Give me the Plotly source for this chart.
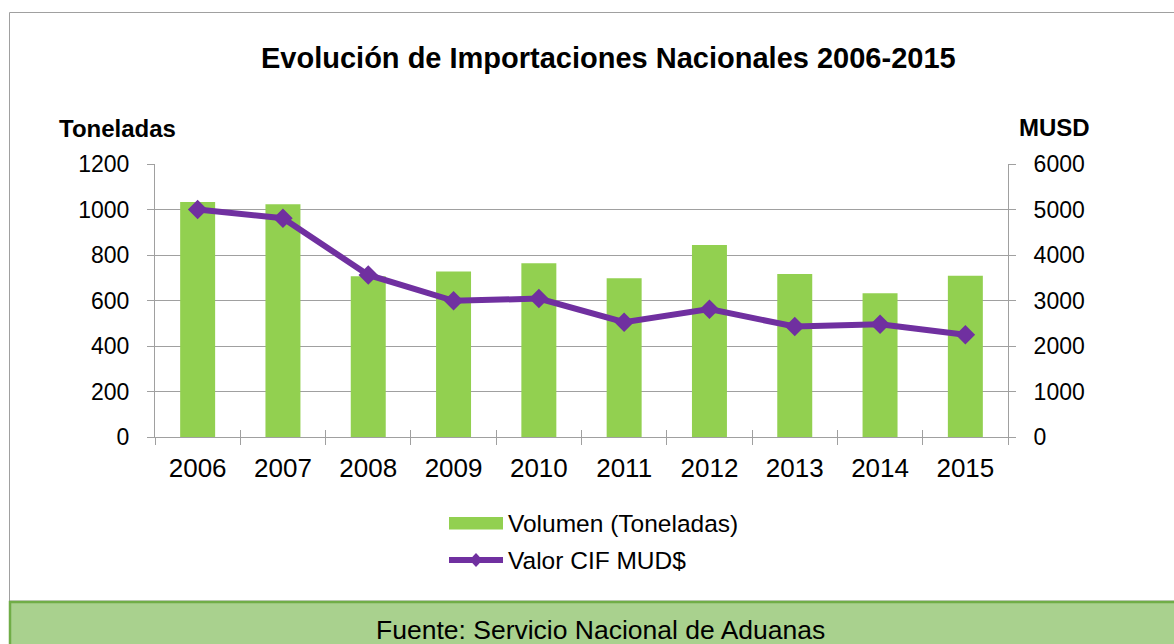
import plotly.graph_objects as go

years = ["2006", "2007", "2008", "2009", "2010", "2011", "2012", "2013", "2014", "2015"]
volumen_ton = [1033, 1023, 707, 727, 764, 698, 844, 717, 632, 709]
valor_cif = [5000, 4807, 3562, 2992, 3043, 2524, 2810, 2428, 2480, 2245]

title_text = "Evolución de Importaciones Nacionales 2006-2015"
left_title = "Toneladas"
right_title = "MUSD"
bar_name = "Volumen (Toneladas)"
line_name = "Valor CIF MUD$"
source_text = "Fuente: Servicio Nacional de Aduanas"

W, H = 1174, 644
ML, MR, MT, MB = 155, 166, 164, 207
PW, PH = W - ML - MR, H - MT - MB


def px(x):
    return (x - ML) / PW


def py(y):
    return (H - MB - y) / PH


FONT = "Arial, Liberation Sans, sans-serif"
GRID = "#A0A0A0"
GREEN = "#92D050"
PURPLE = "#7030A0"

fig = go.Figure()
fig.add_trace(go.Bar(x=years, y=volumen_ton, name=bar_name, marker=dict(color=GREEN, line=dict(width=0)),
                     yaxis="y", xaxis="x"))
fig.add_trace(go.Scatter(x=years, y=valor_cif, name=line_name, mode="lines+markers",
                         line=dict(color=PURPLE, width=6),
                         marker=dict(symbol="diamond", size=15, color=PURPLE),
                         yaxis="y2", xaxis="x"))

n = len(years)
bounds = [i - 0.5 for i in range(n + 1)]
ytick = [0, 200, 400, 600, 800, 1000, 1200]

fig.update_layout(
    width=W, height=H,
    margin=dict(l=ML, r=MR, t=MT, b=MB, pad=0),
    paper_bgcolor="white", plot_bgcolor="white",
    showlegend=False,
    bargap=0.59,
    font=dict(family=FONT, color="black"),
    xaxis=dict(type="category", tickson="boundaries", ticks="outside", ticklen=7, tickcolor=GRID,
               showline=True, linecolor=GRID, linewidth=1, showgrid=False,
               tickfont=dict(size=26), ticklabelstandoff=8, range=[-0.5, n - 0.5]),
    xaxis2=dict(overlaying="x", anchor="y", range=[-0.5, n - 0.5], tickvals=bounds, ticks="inside",
                ticklen=7, tickcolor=GRID, showticklabels=False, showgrid=False, showline=False,
                zeroline=False, side="bottom"),
    yaxis=dict(range=[0, 1200], tickvals=ytick, ticks="outside", ticklen=7, tickcolor=GRID,
               showline=True, linecolor=GRID, linewidth=1, showgrid=True, gridcolor=GRID, gridwidth=1,
               zeroline=False, tickfont=dict(size=23), ticklabelstandoff=13),
    yaxis2=dict(range=[0, 6000], dtick=1000, overlaying="y", side="right", anchor="x", ticks="outside",
                ticklen=7, tickcolor=GRID, showline=True, linecolor=GRID, linewidth=1, showgrid=False,
                zeroline=False, tickfont=dict(size=23), ticklabelstandoff=13),
    yaxis3=dict(range=[0, 1200], tickvals=ytick, overlaying="y", side="left", anchor="x", ticks="inside",
                ticklen=7, tickcolor=GRID, showticklabels=False, showgrid=False, showline=False, zeroline=False),
    yaxis4=dict(range=[0, 1200], tickvals=ytick, overlaying="y", side="right", anchor="x", ticks="inside",
                ticklen=7, tickcolor=GRID, showticklabels=False, showgrid=False, showline=False, zeroline=False),
)

# invisible helper traces so the overlay tick axes render
fig.add_trace(go.Scatter(x=[0], y=[0], xaxis="x2", yaxis="y3", mode="markers", marker=dict(opacity=0),
                         hoverinfo="skip", showlegend=False))
fig.add_trace(go.Scatter(x=[0], y=[0], xaxis="x2", yaxis="y4", mode="markers", marker=dict(opacity=0),
                         hoverinfo="skip", showlegend=False))

shapes = [
    # outer frame
    dict(type="rect", xref="paper", yref="paper", x0=px(9.5), x1=px(1190), y0=py(601), y1=py(12.5),
         line=dict(color="#A0A0A0", width=1), fillcolor="rgba(0,0,0,0)", layer="below"),
    # source box
    dict(type="rect", xref="paper", yref="paper", x0=px(10), x1=px(1190), y0=py(660), y1=py(602),
         line=dict(color="#70AD47", width=2.5), fillcolor="#A9D18E", layer="above"),
    # legend: bar symbol
    dict(type="rect", xref="paper", yref="paper", x0=px(449), x1=px(503), y0=py(529.5), y1=py(517),
         line=dict(width=0), fillcolor=GREEN),
    # legend: line symbol
    dict(type="line", xref="paper", yref="paper", x0=px(449), x1=px(503), y0=py(560), y1=py(560),
         line=dict(color=PURPLE, width=6)),
    dict(type="path", xref="paper", yref="paper",
         path=f"M {px(476)},{py(553)} L {px(482.5)},{py(560)} L {px(476)},{py(567)} L {px(469.5)},{py(560)} Z",
         line=dict(width=0), fillcolor=PURPLE),
]

annotations = [
    dict(text=f"<b>{title_text}</b>", xref="paper", yref="paper", x=px(608), y=py(58), showarrow=False,
         xanchor="center", yanchor="middle", font=dict(size=29)),
    dict(text=f"<b>{left_title}</b>", xref="paper", yref="paper", x=px(117), y=py(128), showarrow=False,
         xanchor="center", yanchor="middle", font=dict(size=24)),
    dict(text=f"<b>{right_title}</b>", xref="paper", yref="paper", x=px(1054), y=py(127), showarrow=False,
         xanchor="center", yanchor="middle", font=dict(size=24)),
    dict(text=bar_name, xref="paper", yref="paper", x=px(506), y=py(523), showarrow=False,
         xanchor="left", yanchor="middle", font=dict(size=24.5)),
    dict(text=line_name, xref="paper", yref="paper", x=px(506), y=py(560), showarrow=False,
         xanchor="left", yanchor="middle", font=dict(size=24.5)),
    dict(text=source_text, xref="paper", yref="paper", x=px(600), y=py(630), showarrow=False,
         xanchor="center", yanchor="middle", font=dict(size=26.5)),
]

fig.update_layout(shapes=shapes, annotations=annotations)
fig.write_html("out.html", config={"displayModeBar": False},
               post_script="document.body.style.margin='0';document.body.style.overflow='hidden';")
